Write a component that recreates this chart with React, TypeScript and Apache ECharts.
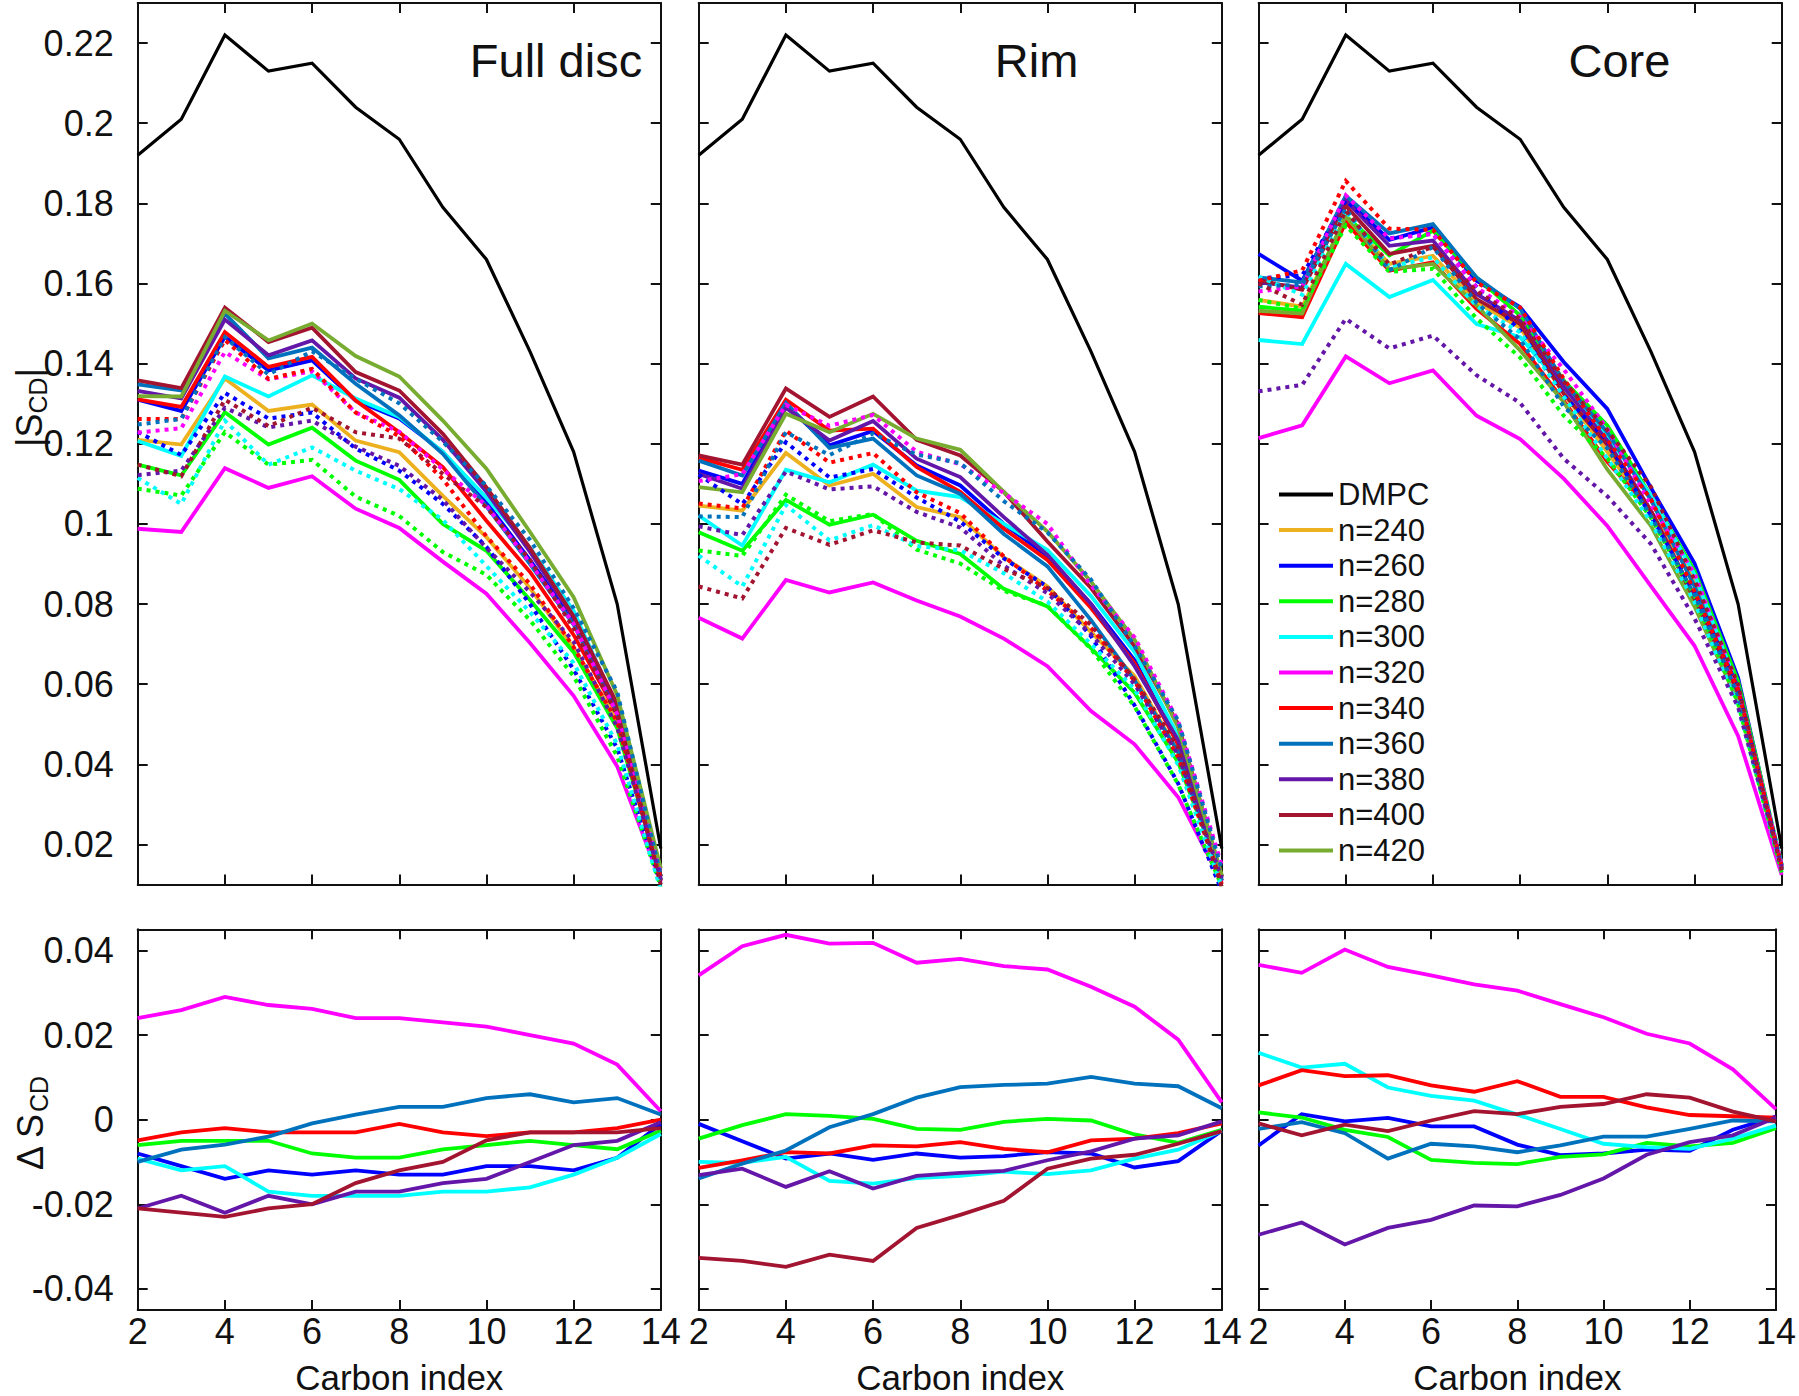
import React, { useEffect, useRef } from "react";
import * as echarts from "echarts";

// ---------- categories / labels ----------
const CARBON = [2, 3, 4, 5, 6, 7, 8, 9, 10, 11, 12, 13, 14];
const LEGEND_NAMES = ["DMPC", "n=240", "n=260", "n=280", "n=300", "n=320", "n=340", "n=360", "n=380", "n=400", "n=420"];
const N_NAMES = LEGEND_NAMES.slice(1);
const N_COLORS = ["#EDB120", "#0000FF", "#00FF00", "#00FFFF", "#FF00FF", "#FF0000", "#0072BD", "#6416A8", "#A2142F", "#77AC30"];
const PANEL_TITLES = ["Full disc", "Rim", "Core"];
const TOP_Y_TICKS = [0.02, 0.04, 0.06, 0.08, 0.1, 0.12, 0.14, 0.16, 0.18, 0.2, 0.22];
const BOT_Y_TICKS = [-0.04, -0.02, 0, 0.02, 0.04];

// ---------- |S_CD| reference ----------
const DMPC = [0.192, 0.201, 0.222, 0.213, 0.215, 0.204, 0.196, 0.179, 0.166, 0.143, 0.118, 0.08, 0.019];

// ---------- Full disc, |S_CD| ----------
const FULL_240 = [0.121, 0.1198, 0.1363, 0.1282, 0.1298, 0.1208, 0.1179, 0.107, 0.0967, 0.084, 0.069, 0.051, 0.012];
const FULL_260 = [0.131, 0.1282, 0.1467, 0.1383, 0.1408, 0.1308, 0.1263, 0.118, 0.1053, 0.091, 0.0757, 0.053, 0.011];
const FULL_280 = [0.1148, 0.1121, 0.1279, 0.1198, 0.124, 0.1158, 0.111, 0.1, 0.0933, 0.081, 0.068, 0.049, 0.012];
const FULL_300 = [0.1207, 0.117, 0.1368, 0.1318, 0.1371, 0.1313, 0.1267, 0.118, 0.1065, 0.094, 0.0783, 0.054, 0.012];
const FULL_320 = [0.0988, 0.098, 0.1139, 0.109, 0.1119, 0.1038, 0.099, 0.0906, 0.0826, 0.0703, 0.0571, 0.0395, 0.0107];
const FULL_340 = [0.1311, 0.1292, 0.1479, 0.1392, 0.1417, 0.1308, 0.1229, 0.1142, 0.1008, 0.088, 0.0723, 0.0526, 0.011];
const FULL_360 = [0.1348, 0.1333, 0.1525, 0.1413, 0.144, 0.135, 0.1271, 0.1175, 0.1044, 0.09, 0.0749, 0.053, 0.011];
const FULL_380 = [0.1332, 0.1313, 0.151, 0.1421, 0.1458, 0.1363, 0.1315, 0.121, 0.108, 0.093, 0.0766, 0.0543, 0.012];
const FULL_400 = [0.1358, 0.1339, 0.154, 0.1454, 0.149, 0.1379, 0.1333, 0.1225, 0.1091, 0.094, 0.077, 0.0551, 0.012];
const FULL_420 = [0.1319, 0.1318, 0.1532, 0.1458, 0.15, 0.1419, 0.1368, 0.1258, 0.1138, 0.098, 0.0817, 0.0573, 0.014];

// ---------- Full disc, Delta S_CD (n=260..400) ----------
const FULL_D260 = [-0.008, -0.011, -0.014, -0.012, -0.013, -0.012, -0.013, -0.013, -0.011, -0.011, -0.012, -0.009, -0.001];
const FULL_D280 = [-0.006, -0.005, -0.005, -0.005, -0.008, -0.009, -0.009, -0.007, -0.006, -0.005, -0.006, -0.007, -0.0026];
const FULL_D300 = [-0.0092, -0.012, -0.011, -0.017, -0.018, -0.018, -0.018, -0.017, -0.017, -0.016, -0.013, -0.009, -0.0034];
const FULL_D320 = [0.024, 0.0259, 0.029, 0.0271, 0.0262, 0.024, 0.024, 0.023, 0.022, 0.02, 0.018, 0.013, 0.002];
const FULL_D340 = [-0.0049, -0.003, -0.002, -0.003, -0.003, -0.003, -0.001, -0.003, -0.0039, -0.003, -0.003, -0.002, 0];
const FULL_D360 = [-0.01, -0.0071, -0.0059, -0.004, -0.0009, 0.0012, 0.003, 0.003, 0.0051, 0.006, 0.0041, 0.0051, 0.0012];
const FULL_D380 = [-0.021, -0.018, -0.022, -0.018, -0.02, -0.017, -0.017, -0.015, -0.014, -0.01, -0.006, -0.005, -0.0006];
const FULL_D400 = [-0.021, -0.022, -0.023, -0.021, -0.02, -0.015, -0.012, -0.01, -0.0049, -0.003, -0.003, -0.003, -0.002];

// ---------- Rim, |S_CD| ----------
const RIM_240 = [0.1046, 0.1033, 0.1177, 0.1096, 0.1125, 0.1042, 0.1017, 0.0917, 0.0844, 0.073, 0.062, 0.043, 0.012];
const RIM_260 = [0.1133, 0.11, 0.1296, 0.1196, 0.1232, 0.1146, 0.1096, 0.1, 0.092, 0.08, 0.066, 0.045, 0.011];
const RIM_280 = [0.0979, 0.0933, 0.106, 0.0998, 0.1023, 0.0958, 0.0925, 0.0838, 0.0794, 0.069, 0.0579, 0.0405, 0.012];
const RIM_300 = [0.1021, 0.0946, 0.1135, 0.1104, 0.1148, 0.1083, 0.1067, 0.1, 0.0935, 0.082, 0.068, 0.047, 0.012];
const RIM_320 = [0.0766, 0.0714, 0.086, 0.0829, 0.0854, 0.0809, 0.0769, 0.0714, 0.0645, 0.0533, 0.045, 0.0318, 0.0107];
const RIM_340 = [0.1165, 0.1135, 0.131, 0.1233, 0.1238, 0.1142, 0.108, 0.0988, 0.091, 0.079, 0.0653, 0.045, 0.011];
const RIM_360 = [0.1158, 0.1121, 0.1302, 0.119, 0.1213, 0.1121, 0.1075, 0.0975, 0.0894, 0.076, 0.061, 0.043, 0.011];
const RIM_380 = [0.1125, 0.1088, 0.129, 0.1208, 0.1257, 0.1163, 0.1117, 0.1017, 0.0923, 0.08, 0.0645, 0.046, 0.012];
const RIM_400 = [0.1171, 0.1148, 0.1338, 0.1267, 0.1318, 0.121, 0.1171, 0.108, 0.0956, 0.084, 0.0695, 0.05, 0.012];
const RIM_420 = [0.1092, 0.1079, 0.1275, 0.1229, 0.1275, 0.1213, 0.1185, 0.108, 0.0981, 0.0856, 0.0711, 0.0492, 0.0123];

// ---------- Rim, Delta S_CD ----------
const RIM_D260 = [-0.001, -0.0051, -0.0092, -0.008, -0.0095, -0.008, -0.009, -0.0086, -0.0077, -0.008, -0.0113, -0.0098, -0.0026];
const RIM_D280 = [-0.0045, -0.0013, 0.0013, 0.0009, 0.0002, -0.0022, -0.0024, -0.0005, 0.0002, -0.0002, -0.0035, -0.0055, -0.0024];
const RIM_D300 = [-0.01, -0.0102, -0.0088, -0.0145, -0.0151, -0.0138, -0.0133, -0.0123, -0.0129, -0.012, -0.0092, -0.0071, -0.0026];
const RIM_D320 = [0.0341, 0.041, 0.0437, 0.0416, 0.0418, 0.0371, 0.038, 0.0363, 0.0355, 0.0314, 0.0267, 0.0189, 0.0041];
const RIM_D340 = [-0.0114, -0.0096, -0.0077, -0.008, -0.0061, -0.0063, -0.0053, -0.0069, -0.0077, -0.0049, -0.0045, -0.0032, -0.0009];
const RIM_D360 = [-0.0139, -0.0104, -0.0073, -0.0018, 0.0013, 0.0052, 0.0077, 0.0082, 0.0085, 0.0101, 0.0085, 0.0079, 0.0027];
const RIM_D380 = [-0.0131, -0.0116, -0.0159, -0.0122, -0.0163, -0.0133, -0.0126, -0.0121, -0.0096, -0.0075, -0.0045, -0.0037, -0.0004];
const RIM_D400 = [-0.0327, -0.0334, -0.0348, -0.0319, -0.0334, -0.0256, -0.0225, -0.0192, -0.0116, -0.0092, -0.0083, -0.0057, -0.0027];

// ---------- Core, |S_CD| ----------
const CORE_240 = [0.1559, 0.1542, 0.1765, 0.1649, 0.1669, 0.1553, 0.149, 0.1325, 0.118, 0.103, 0.086, 0.058, 0.014];
const CORE_260 = [0.1674, 0.1607, 0.1811, 0.1709, 0.174, 0.1607, 0.1541, 0.1404, 0.1287, 0.109, 0.0902, 0.0616, 0.014];
const CORE_280 = [0.1542, 0.1532, 0.1769, 0.167, 0.1732, 0.1615, 0.152, 0.1358, 0.1246, 0.107, 0.0883, 0.0607, 0.015];
const CORE_300 = [0.1459, 0.1449, 0.1649, 0.1566, 0.1609, 0.1499, 0.1466, 0.134, 0.122, 0.107, 0.0874, 0.059, 0.015];
const CORE_320 = [0.1214, 0.1246, 0.1418, 0.1351, 0.1383, 0.127, 0.1212, 0.1113, 0.0995, 0.0845, 0.0696, 0.0471, 0.0124];
const CORE_340 = [0.1526, 0.1516, 0.1753, 0.1632, 0.1653, 0.1537, 0.1449, 0.1308, 0.1155, 0.1033, 0.082, 0.058, 0.014];
const CORE_360 = [0.1615, 0.1603, 0.1819, 0.1725, 0.1748, 0.1615, 0.1537, 0.1354, 0.1229, 0.106, 0.0845, 0.0574, 0.014];
const CORE_380 = [0.1603, 0.159, 0.1807, 0.1694, 0.1707, 0.1574, 0.1507, 0.1341, 0.1208, 0.1033, 0.0817, 0.058, 0.014];
const CORE_400 = [0.1609, 0.1584, 0.1794, 0.1674, 0.1694, 0.1561, 0.1499, 0.1325, 0.1197, 0.1033, 0.0808, 0.058, 0.014];
const CORE_420 = [0.1532, 0.1525, 0.1769, 0.1636, 0.1649, 0.1545, 0.1433, 0.1304, 0.1136, 0.0995, 0.0794, 0.0555, 0.014];

// ---------- Core, Delta S_CD ----------
const CORE_D260 = [-0.0061, 0.0013, -0.0004, 0.0004, -0.0016, -0.0016, -0.0059, -0.0084, -0.008, -0.0071, -0.0074, -0.0024, 0.0007];
const CORE_D280 = [0.0017, 0.0005, -0.0024, -0.0041, -0.0095, -0.0102, -0.0105, -0.0088, -0.0082, -0.0055, -0.0063, -0.0055, -0.002];
const CORE_D300 = [0.0158, 0.0123, 0.0132, 0.0076, 0.0056, 0.0045, 0.0012, -0.0022, -0.0057, -0.0065, -0.0069, -0.0045, -0.0014];
const CORE_D320 = [0.0366, 0.0347, 0.0402, 0.0361, 0.0341, 0.032, 0.0305, 0.0273, 0.0242, 0.0203, 0.018, 0.0119, 0.0025];
const CORE_D340 = [0.0081, 0.0117, 0.0103, 0.0105, 0.0081, 0.0066, 0.0091, 0.0054, 0.0054, 0.0029, 0.0011, 0.0008, 0.0005];
const CORE_D360 = [-0.0022, -0.0006, -0.0032, -0.0092, -0.0057, -0.0063, -0.0077, -0.0061, -0.004, -0.004, -0.0022, -0.0002, -0.0004];
const CORE_D380 = [-0.0272, -0.0243, -0.0295, -0.0256, -0.0237, -0.0203, -0.0205, -0.0178, -0.0139, -0.0083, -0.0053, -0.0037, 0.0005];
const CORE_D400 = [-0.0009, -0.0037, -0.0012, -0.0027, -0.0002, 0.002, 0.0013, 0.003, 0.0037, 0.006, 0.0052, 0.0019, -0.0004];

const SOLIDS = [
  [FULL_240, FULL_260, FULL_280, FULL_300, FULL_320, FULL_340, FULL_360, FULL_380, FULL_400, FULL_420],
  [RIM_240, RIM_260, RIM_280, RIM_300, RIM_320, RIM_340, RIM_360, RIM_380, RIM_400, RIM_420],
  [CORE_240, CORE_260, CORE_280, CORE_300, CORE_320, CORE_340, CORE_360, CORE_380, CORE_400, CORE_420],
];
// deltas belong to n=260..n=400 (indices 1..8 of N_NAMES)
const DELTAS = [
  [FULL_D260, FULL_D280, FULL_D300, FULL_D320, FULL_D340, FULL_D360, FULL_D380, FULL_D400],
  [RIM_D260, RIM_D280, RIM_D300, RIM_D320, RIM_D340, RIM_D360, RIM_D380, RIM_D400],
  [CORE_D260, CORE_D280, CORE_D300, CORE_D320, CORE_D340, CORE_D360, CORE_D380, CORE_D400],
];

// ---------- layout / style ----------
const FONT = '"Liberation Sans", Arial, Helvetica, sans-serif';
const INK = "#111111";
const COL_LEFT = [137.7, 698.7, 1258.6];
const PANEL_W = 523.1;
const ROWS = [
  { top: 3, height: 881.6, min: 0.01, max: 0.23, ticks: TOP_Y_TICKS },
  { top: 929.3, height: 384.4, min: -0.045, max: 0.045, ticks: BOT_Y_TICKS },
];
const TITLE_POS = [
  [556, 60],
  [1036.6, 60],
  [1619.4, 60],
];

function fmt(v: number) {
  return String(parseFloat(Number(v).toFixed(3)));
}

function measure(text: string, size: number) {
  const ctx = document.createElement("canvas").getContext("2d");
  if (!ctx) return text.length * size * 0.55;
  ctx.font = `${size}px "Liberation Sans"`;
  return ctx.measureText(text).width;
}

function subLabel(main: string, sub: string, tail: string, cx: number, cy: number) {
  const mainSize = 36;
  const subSize = 25;
  const w1 = measure(main, mainSize);
  const w2 = measure(sub, subSize);
  const w3 = tail ? measure(tail, mainSize) : 0;
  const x0 = -(w1 + w2 + w3) / 2;
  const base = { fontFamily: FONT, fill: INK, align: "left", verticalAlign: "middle" };
  const children: any[] = [
    { type: "text", x: x0, y: 0, style: { ...base, text: main, fontSize: mainSize } },
    { type: "text", x: x0 + w1, y: 9, style: { ...base, text: sub, fontSize: subSize } },
  ];
  if (tail) children.push({ type: "text", x: x0 + w1 + w2, y: 0, style: { ...base, text: tail, fontSize: mainSize } });
  return { type: "group", x: cx, y: cy, rotation: Math.PI / 2, children, silent: true };
}

function pairs(vals: number[]) {
  return CARBON.map((x, i) => [x, vals[i]]);
}

function lineSeries(name: string, vals: number[], color: string, width: number, type: any, axisIdx: number) {
  return {
    type: "line",
    name,
    xAxisIndex: axisIdx,
    yAxisIndex: axisIdx,
    data: pairs(vals),
    symbol: "none",
    showSymbol: false,
    silent: true,
    animation: false,
    emphasis: { disabled: true },
    itemStyle: { color },
    lineStyle: { color, width, type, cap: "butt", join: "miter" },
  };
}

function buildOption() {
  const grids: any[] = [];
  const xAxes: any[] = [];
  const yAxes: any[] = [];
  const series: any[] = [];
  const axisLineStyle = { color: INK, width: 2 };

  for (let r = 0; r < 2; r++) {
    for (let c = 0; c < 3; c++) {
      const g = r * 3 + c;
      const row = ROWS[r];
      const isBottom = r === 1;
      grids.push({ left: COL_LEFT[c], top: row.top, width: PANEL_W, height: row.height, containLabel: false });
      const xBase = {
        type: "value",
        gridIndex: g,
        min: 2,
        max: 14,
        interval: 2,
        axisLine: { show: true, onZero: false, lineStyle: axisLineStyle },
        axisTick: { show: true, inside: true, length: 10, lineStyle: axisLineStyle },
        splitLine: { show: false },
      };
      xAxes.push({
        ...xBase,
        position: "bottom",
        axisLabel: { show: isBottom, fontSize: 36, fontFamily: FONT, color: INK, margin: 3, formatter: (v: number) => String(v) },
        name: isBottom ? "Carbon index" : "",
        nameLocation: "middle",
        nameGap: 50,
        nameTextStyle: { fontSize: 35, fontFamily: FONT, color: INK },
      });
      xAxes.push({ ...xBase, position: "top", axisLabel: { show: false } });

      const yBase = {
        type: "value",
        gridIndex: g,
        min: row.min,
        max: row.max,
        axisLine: { show: true, onZero: false, lineStyle: axisLineStyle },
        axisTick: { show: true, inside: true, length: 10, lineStyle: axisLineStyle, customValues: row.ticks },
        splitLine: { show: false },
      };
      yAxes.push({
        ...yBase,
        position: "left",
        axisLabel: {
          show: c === 0,
          customValues: row.ticks,
          formatter: fmt,
          fontSize: 36,
          fontFamily: FONT,
          color: INK,
          margin: 24,
        },
      });
      yAxes.push({ ...yBase, position: "right", axisLabel: { show: false, customValues: row.ticks } });
    }
  }

  for (let c = 0; c < 3; c++) {
    const topAxis = 2 * c;
    const botAxis = 2 * (3 + c);
    series.push(lineSeries("DMPC", DMPC, "#000000", 3.2, "solid", topAxis));
    SOLIDS[c].forEach((arr, k) => series.push(lineSeries(N_NAMES[k], arr, N_COLORS[k], 3.8, "solid", topAxis)));
    DELTAS[c].forEach((delta, k) => {
      const idx = k + 1;
      const base = SOLIDS[c][idx];
      const shifted = base.map((v, i) => parseFloat((v + delta[i]).toFixed(4)));
      series.push(lineSeries(N_NAMES[idx] + " shifted", shifted, N_COLORS[idx], 4, [4, 5], topAxis));
    });
    DELTAS[c].forEach((delta, k) => series.push(lineSeries(N_NAMES[k + 1], delta, N_COLORS[k + 1], 3.8, "solid", botAxis)));
  }

  const graphic: any[] = PANEL_TITLES.map((t, i) => ({
    type: "text",
    x: TITLE_POS[i][0],
    y: TITLE_POS[i][1],
    silent: true,
    style: { text: t, fontSize: 47, fontFamily: FONT, fill: INK, align: "center", verticalAlign: "middle" },
  }));
  graphic.push(subLabel("|S", "CD", "|", 29, 407.5));
  graphic.push(subLabel("Δ S", "CD", "", 30, 1123));

  return {
    animation: false,
    backgroundColor: "#ffffff",
    grid: grids,
    xAxis: xAxes,
    yAxis: yAxes,
    series,
    legend: {
      show: true,
      orient: "vertical",
      left: 1279,
      top: 479,
      data: LEGEND_NAMES,
      icon: "rect",
      itemWidth: 54,
      itemHeight: 4,
      itemGap: 4.6,
      padding: 0,
      selectedMode: false,
      textStyle: { fontSize: 31, lineHeight: 31, fontFamily: FONT, color: INK },
    },
    graphic,
  };
}

export default function App() {
  const ref = useRef<HTMLDivElement>(null);
  useEffect(() => {
    if (!ref.current) return;
    const chart = echarts.init(ref.current, null, { renderer: "svg" });
    chart.setOption(buildOption() as any);
    return () => chart.dispose();
  }, []);
  return (
    <div
      ref={ref}
      style={{ position: "absolute", left: 0, top: 0, width: 1799, height: 1396, background: "#ffffff" }}
    />
  );
}
